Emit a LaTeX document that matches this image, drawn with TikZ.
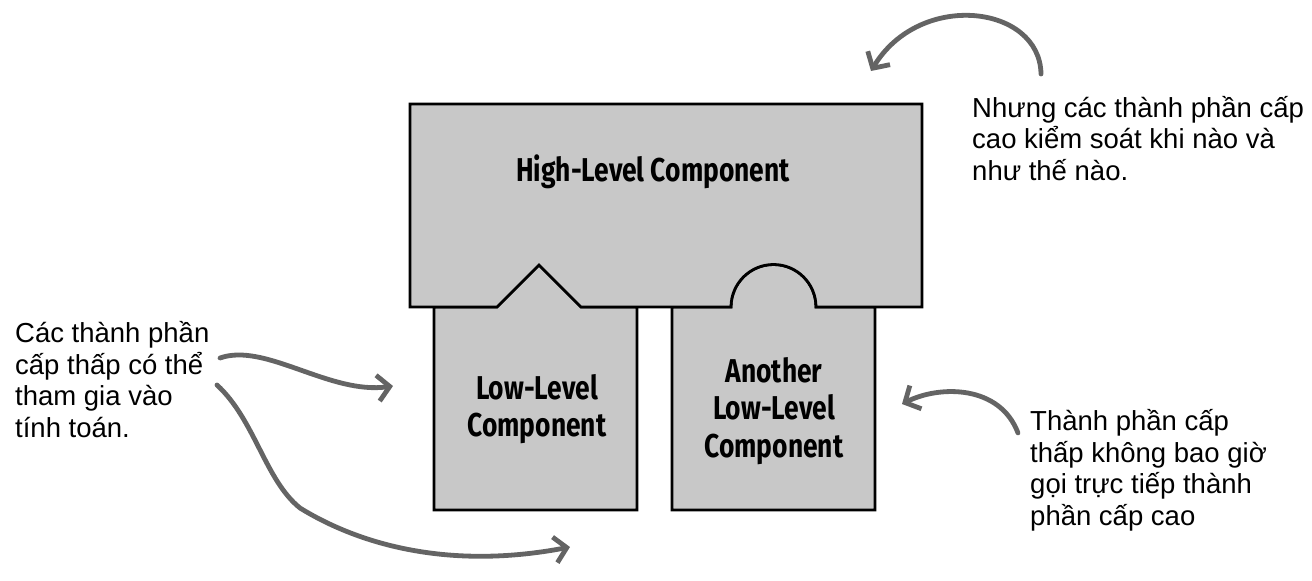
\documentclass[tikz,border=0pt]{standalone}
\usepackage{fontspec}
\setmainfont{Liberation Sans}
\newfontfamily\compfont[FakeStretch=0.8]{Fira Sans}
\definecolor{partGray}{HTML}{C8C8C8}
\definecolor{penGray}{HTML}{646464}
\usetikzlibrary{arrows.meta,positioning}

\begin{document}
\begin{tikzpicture}[x=1pt,y=-1pt,
  part/.style={draw=black,fill=partGray,line width=2.8pt,line join=miter},
  lbl/.style={font=\compfont\bfseries\fontsize{33}{37.5}\selectfont,align=center,inner sep=0pt},
  note/.style={font=\fontsize{27.5}{31.5}\selectfont,align=left,anchor=base west,inner sep=0pt},
  pen/.style={-{Straight Barb[length=12pt,width=26pt]},penGray,line width=4.8pt,
              line cap=round,line join=round}
]
  \useasboundingbox (0,0) rectangle (1312,581);

  % Low-level parts (they fill the notches)
  \path[part] (434,307) -- (497,307) -- (539,265) -- (581,307) -- (637,307)
        -- (637,510) -- (434,510) -- cycle;
  \path[part] (672,307) -- (731,307) arc (-180:0:42.5) -- (875,307)
        -- (875,510) -- (672,510) -- cycle;

  % High-level part
  \path[part] (410,104) -- (922,104) -- (922,307) -- (816,307) arc (0:-180:42.5)
        -- (581,307) -- (539,265) -- (497,307) -- (410,307) -- cycle;

  % Labels
  \node[lbl,anchor=base] (high)  at (653,181) {High-Level Component};
  \node[lbl] (low)   at (537,409) {Low-Level\\Component};
  \node[lbl] (other) at (774,411) {Another\\Low-Level\\Component};

  % Notes (placed by their last baseline)
  \node[note] (ctrl)  at (972,180) {Nhưng các thành phần cấp\\cao kiểm soát khi nào và\\như thế nào.};
  \node[note] (join)  at (15,437)  {Các thành phần\\cấp thấp có thể\\tham gia vào\\tính toán.};
  \node[note] (never) at (1030,525) {Thành phần cấp\\thấp không bao giờ\\gọi trực tiếp thành\\phần cấp cao};

  % Hand-drawn arrows
  \coordinate (ctrl-a)  at (1041,74);
  \coordinate (ctrl-b)  at (871,71);
  \coordinate (join-a)  at (220,358);
  \coordinate (join-b)  at (393,386);
  \coordinate (join-c)  at (217,385);
  \coordinate (join-d)  at (570,547);
  \coordinate (never-a) at (1018,433);
  \coordinate (never-b) at (902,404);

  \draw[pen] (ctrl-a) .. controls (1040,5) and (920,-10) .. (ctrl-b);
  \draw[pen] (join-a) .. controls (265,342) and (330,395) .. (join-b);
  \draw[pen] (join-c) .. controls (255,420) and (265,480) .. (300,508)
        .. controls (360,545) and (450,570) .. (join-d);
  \draw[pen] (never-a) .. controls (1000,385) and (940,385) .. (never-b);
\end{tikzpicture}
\end{document}
